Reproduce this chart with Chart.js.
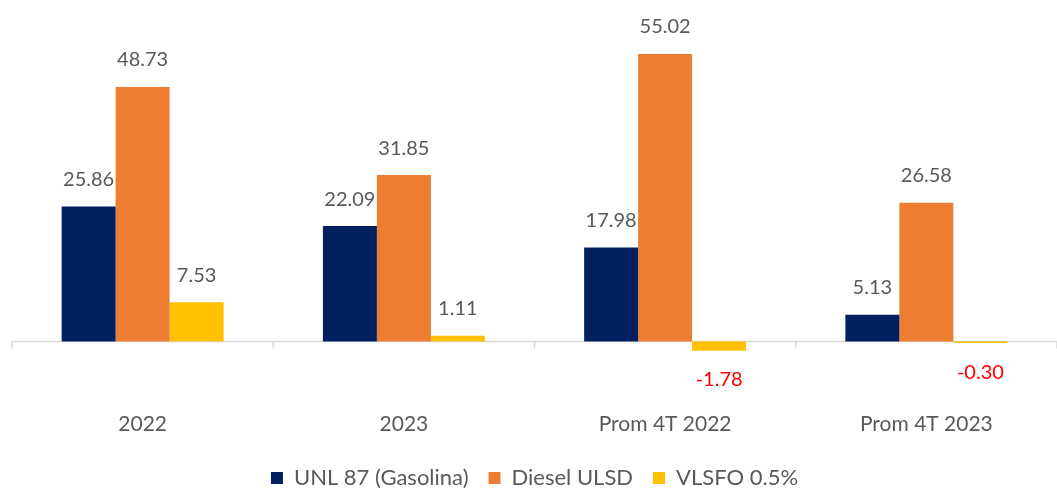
<!DOCTYPE html>
<html>
<head>
<meta charset="utf-8">
<script src="https://cdn.jsdelivr.net/npm/chart.js@4"></script>
<style>
  html, body { margin: 0; padding: 0; background: #fff; }
  #wrap { width: 1057px; height: 488px; }
</style>
</head>
<body>
<div id="wrap"><canvas id="mainChart"></canvas></div>
<script>
// data
const categories = ['2022', '2023', 'Prom 4T 2022', 'Prom 4T 2023'];
const unl87 = [25.86, 22.09, 17.98, 5.13];
const dieselUlsd = [48.73, 31.85, 55.02, 26.58];
const vlsfo = [7.53, 1.11, -1.78, -0.30];
const seriesNames = ['UNL 87 (Gasolina)', 'Diesel ULSD', 'VLSFO 0.5%'];

const FONT = 'Lato, "Liberation Sans", sans-serif';

// value labels above bars (negative ones below, in red)
const valueLabels = {
  id: 'valueLabels',
  afterDatasetsDraw(chart) {
    const ctx = chart.ctx;
    ctx.save();
    ctx.font = '20px ' + FONT;
    ctx.textAlign = 'center';
    ctx.textBaseline = 'middle';
    chart.data.datasets.forEach((ds, i) => {
      chart.getDatasetMeta(i).data.forEach((bar, j) => {
        const v = ds.data[j];
        if (v >= 0) {
          ctx.fillStyle = '#595959';
          ctx.fillText(v.toFixed(2), bar.x, bar.y - 27);
        } else {
          ctx.fillStyle = '#FF0000';
          ctx.fillText(v.toFixed(2), bar.x, bar.y + 29);
        }
      });
    });
    ctx.restore();
  }
};

// zero line + tick marks at category boundaries
const zeroAxis = {
  id: 'zeroAxis',
  beforeDatasetsDraw(chart) {
    const ctx = chart.ctx;
    const x = chart.scales.x, y = chart.scales.y;
    const y0 = y.getPixelForValue(0);
    ctx.save();
    ctx.strokeStyle = '#d9d9d9';
    ctx.lineWidth = 1.5;
    ctx.beginPath();
    ctx.moveTo(chart.chartArea.left, y0);
    ctx.lineTo(chart.chartArea.right, y0);
    for (let i = 0; i <= categories.length; i++) {
      const px = x.getPixelForValue(i - 0.5);
      ctx.moveTo(px, y0);
      ctx.lineTo(px, y0 + 7);
    }
    ctx.stroke();
    ctx.restore();
  }
};

new Chart(document.getElementById('mainChart'), {
  type: 'bar',
  data: {
    labels: categories,
    datasets: [
      { label: seriesNames[0], data: unl87, backgroundColor: '#002060' },
      { label: seriesNames[1], data: dieselUlsd, backgroundColor: '#ED7D31' },
      { label: seriesNames[2], data: vlsfo, backgroundColor: '#FFC000' }
    ]
  },
  options: {
    responsive: true,
    maintainAspectRatio: false,
    animation: false,
    layout: { padding: { left: 12, right: 0, top: 28, bottom: -11 } },
    datasets: { bar: { categoryPercentage: 0.62, barPercentage: 1.0 } },
    scales: {
      x: {
        grid: { display: false },
        border: { display: false },
        ticks: { color: '#595959', font: { family: FONT, size: 21 }, padding: 10 }
      },
      y: {
        display: false,
        min: -10,
        max: 60
      }
    },
    plugins: {
      legend: {
        position: 'bottom',
        labels: {
          color: '#595959',
          font: { family: FONT, size: 22 },
          boxWidth: 12,
          boxHeight: 12,
          padding: 20
        }
      },
      tooltip: { enabled: false }
    }
  },
  plugins: [valueLabels, zeroAxis]
});
</script>
</body>
</html>
